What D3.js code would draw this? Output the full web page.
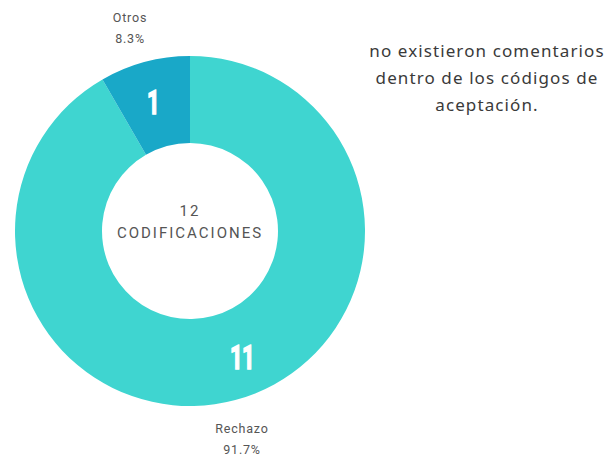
<!DOCTYPE html>
<html><head><meta charset="utf-8">
<script src="https://cdn.jsdelivr.net/npm/d3@7"></script>
<style>body{margin:0;background:#fff}</style>
</head><body>
<svg id="c" width="614" height="460"></svg>
<script>
const categories = ["Rechazo", "Otros"];
const values = [11, 1];
const percentLabels = ["91.7%", "8.3%"];
const centerLines = ["12", "CODIFICACIONES"];
const noteLines = ["no existieron comentarios", "dentro de los códigos de", "aceptación."];

const svg = d3.select("#c");
const cx = 190, cy = 231, R = 175, r = 88;
const colors = d3.scaleOrdinal().domain(categories).range(["#3fd5d0", "#19a8c8"]);
const pie = d3.pie().sort(null).value(d => d.v);
const data = pie(categories.map((c, i) => ({c, v: values[i], p: percentLabels[i]})));
const arc = d3.arc().innerRadius(r).outerRadius(R);
const g = svg.append("g").attr("transform", `translate(${cx},${cy})`);
g.selectAll("path").data(data).join("path")
  .attr("d", arc).attr("fill", d => colors(d.data.c));

// value labels inside slices
const valOffset = {Rechazo: [18, 0], Otros: [-3, -2]};
const labArc = d3.arc().innerRadius(131).outerRadius(131);
g.selectAll("text.val").data(data).join("text")
  .attr("class", "val")
  .attr("transform", d => {
    const p = labArc.centroid(d), o = valOffset[d.data.c];
    return `translate(${p[0] + o[0]},${p[1] + o[1]}) scale(0.65,1)`;
  })
  .attr("text-anchor", "middle").attr("dominant-baseline", "central")
  .attr("fill", "#fff").attr("stroke", "#fff").attr("stroke-width", 1.6)
  .attr("font-weight", "bold")
  .attr("font-family", "Roboto, sans-serif")
  .attr("font-size", 34)
  .attr("letter-spacing", -1)
  .text(d => d.data.v);

// outer labels
const outerPos = {Otros: [-60, -209], Rechazo: [52, 202]};
data.forEach(d => {
  const [x, y] = outerPos[d.data.c];
  const t = g.append("text").attr("text-anchor", "middle")
    .attr("font-family", "Roboto, 'Liberation Sans', sans-serif")
    .attr("font-size", 12.5).attr("fill", "#555").attr("letter-spacing", 0.8);
  t.append("tspan").attr("x", x).attr("y", y).text(d.data.c);
  t.append("tspan").attr("x", x).attr("y", y + 21).text(d.data.p);
});

// center text
const ct = g.append("text").attr("text-anchor", "middle")
  .attr("font-family", "Roboto, 'Liberation Sans', sans-serif")
  .attr("font-size", 15).attr("fill", "#555").attr("letter-spacing", 2);
centerLines.forEach((s, i) => ct.append("tspan").attr("x", 0).attr("y", -15 + i * 22).text(s));

// note text
const nt = svg.append("text").attr("text-anchor", "middle")
  .attr("font-family", "'Noto Sans', Lato, sans-serif")
  .attr("font-size", 17).attr("fill", "#3a3a3a").attr("letter-spacing", 1.1);
noteLines.forEach((s, i) => nt.append("tspan").attr("x", 487).attr("y", 57 + i * 27).text(s));
</script>
</body></html>
